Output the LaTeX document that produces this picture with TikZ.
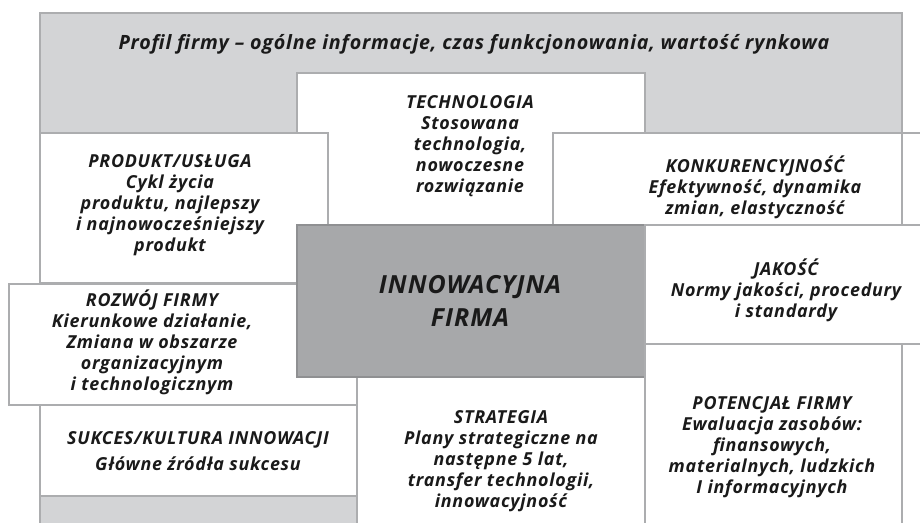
\documentclass[tikz,border=0pt]{standalone}
\usepackage{fontspec}
\setmainfont{Open Sans}[LetterSpace=4]
\usepackage{xcolor}
\definecolor{FrameGray}{HTML}{D3D4D6}
\definecolor{CoreGray} {HTML}{A7A8AA}
\definecolor{EdgeGray} {HTML}{ACADAF}
\definecolor{CoreEdge} {HTML}{8F9092}
\definecolor{InkBlack} {HTML}{1A1A1A}
\tikzset{
  frame/.style={draw=EdgeGray,line width=1.1pt,fill=FrameGray},
  panel/.style={draw=EdgeGray,line width=1.1pt,fill=white},
  core/.style={draw=CoreEdge,line width=1.1pt,fill=CoreGray},
  lbl/.style={align=center,inner sep=0pt,text=InkBlack,
              font=\fontsize{10.2}{11.9}\selectfont\bfseries\itshape},
  corelbl/.style={lbl,font=\fontsize{14.2}{18.6}\selectfont\bfseries\itshape},
}

\begin{document}
\begin{tikzpicture}[x=0.02cm,y=-0.02cm]
  \useasboundingbox (0,0) rectangle (920,522);
  \clip (0,0) rectangle (920,522);

  % grey band first, then the panels from back to front
  \draw[frame] (40,13) rectangle (902,540);
  \draw[panel] (297,73) rectangle (645,225);
  \draw[panel] (40,133) rectangle (328,283);
  \draw[panel] (553,133) rectangle (940,225);
  \draw[EdgeGray,line width=1.1pt] (902,13) -- (902,225);
  \draw[panel] (9,284) rectangle (357,405);
  \draw[panel] (40,405) rectangle (357,496);
  \draw[panel] (357,377) rectangle (645,540);
  \draw[core]  (297,225) rectangle (645,377);
  \draw[panel] (645,225) rectangle (940,344);
  \draw[panel] (645,344) rectangle (902,540);

  \node[lbl,font=\fontsize{11.2}{13}\selectfont\bfseries\itshape] (profil) at (474,44)
    {Profil firmy – ogólne informacje, czas funkcjonowania, wartość rynkowa};
  \node[lbl] (techn) at (470,146)
    {TECHNOLOGIA\\Stosowana\\technologia,\\nowoczesne\\rozwiązanie};
  \node[lbl] (produkt) at (170,205)
    {PRODUKT/USŁUGA\\Cykl życia\\produktu, najlepszy\\i najnowocześniejszy\\produkt};
  \node[lbl] (konkur) at (755,187)
    {KONKURENCYJNOŚĆ\\Efektywność, dynamika\\zmian, elastyczność};
  \node[corelbl] (innow) at (470,301) {INNOWACYJNA\\FIRMA};
  \node[lbl] (jakosc) at (786,290)
    {JAKOŚĆ\\Normy jakości, procedury\\i standardy};
  \node[lbl] (rozwoj) at (152,342)
    {ROZWÓJ FIRMY\\Kierunkowe działanie,\\Zmiana w obszarze\\organizacyjnym\\i technologicznym};
  \node[lbl] (sukces) at (198,451)
    {SUKCES/KULTURA INNOWACJI\\[3pt]Główne źródła sukcesu};
  \node[lbl] (strategia) at (501,461)
    {STRATEGIA\\Plany strategiczne na\\następne 5 lat,\\transfer technologii,\\innowacyjność};
  \node[lbl] (potencjal) at (772,447)
    {POTENCJAŁ FIRMY\\Ewaluacja zasobów:\\finansowych,\\materialnych, ludzkich\\I informacyjnych};
\end{tikzpicture}
\end{document}
